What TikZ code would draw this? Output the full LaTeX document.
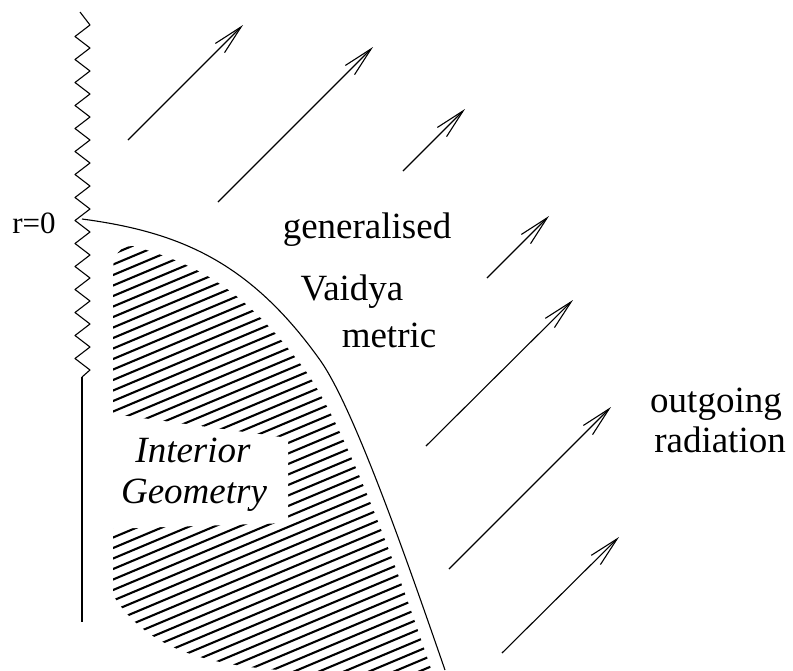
\documentclass[tikz,border=0pt]{standalone}
\usepackage{fontspec}
\setmainfont{Liberation Serif}
\usetikzlibrary{arrows.meta}

\begin{document}
\begin{tikzpicture}[
  x=1pt, y=-1pt,
  line/.style={line width=1.1pt, line join=round},
  hatch/.style={line width=2.1pt},
  ray/.style={line width=1.1pt, -{Straight Barb[length=30pt, width=13pt, line width=1.1pt]}},
  txt/.style={inner sep=0pt, anchor=base, font=\fontsize{37}{44}\selectfont},
  small/.style={inner sep=0pt, anchor=base, font=\fontsize{31}{36}\selectfont}
]
\useasboundingbox (0,0) rectangle (793,670);

% hatched interior region
\begin{scope}
  \clip (113,595) -- (113,270) .. controls (113,255) and (120,246) .. (133,246)
        .. controls (200,265) and (245,290) .. (305,370)
        .. controls (345,425) and (400,575) .. (432,672)
        -- (313,672) .. controls (220,668) and (150,655) .. (113,595) -- cycle;
  \foreach \c in {270,280.5,...,890}
    \draw[hatch] (100,{\c-42}) -- (460,{\c-193.2});
\end{scope}
\fill[white] (105,413) -- (288,438) -- (288,523) -- (105,529) -- cycle;

% singularity r=0 and regular centre
\draw[line] (80,12)
  \foreach \k in {0,...,14} { -- (90,{25+23*\k}) -- (75,{36.5+23*\k}) }
  -- (90,370) -- (82,377) coordinate (centre);
\coordinate (origin) at (82,622);
\draw[line] (centre) -- (origin);

% boundary of the interior
\coordinate (bstart) at (82,219);
\coordinate (bend) at (445,670);
\draw[line] (bstart) .. controls (180,232) and (250,262) .. (320,360)
                     .. controls (355,409) and (412,575) .. (bend);

% outgoing rays
\foreach \i/\xa/\ya/\xb/\yb in {1/128/140/243/25, 2/218/202/373/47,
                                3/403/171/465/109, 4/487/278/549/216,
                                5/426/446/573/300, 6/449/569/611/407,
                                7/502/653/619/537} {
  \coordinate (ray-\i-s) at (\xa,\ya);
  \coordinate (ray-\i-e) at (\xb,\yb);
  \draw[ray] (ray-\i-s) -- (ray-\i-e);
}

% labels
\node[small] (rzero) at (34,233) {r=0};
\node[txt] (gen) at (367,238) {generalised};
\node[txt] (vaidya) at (352,300) {Vaidya};
\node[txt] (metric) at (389,347) {metric};
\node[txt] (outgoing) at (716,412) {outgoing};
\node[txt] (radiation) at (720,452) {radiation};
\node[txt, font=\fontsize{37}{44}\selectfont\itshape] (interior) at (193,462) {Interior};
\node[txt, font=\fontsize{37}{44}\selectfont\itshape] (geometry) at (194,503) {Geometry};
\end{tikzpicture}
\end{document}
